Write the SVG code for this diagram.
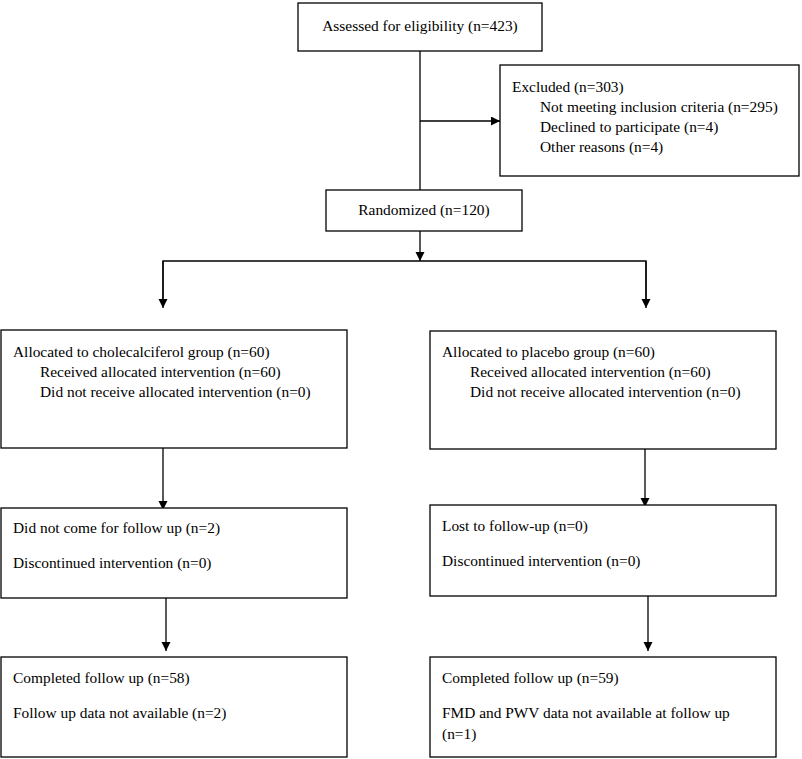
<svg xmlns="http://www.w3.org/2000/svg" width="802" height="759" viewBox="0 0 802 759">
<defs>
<style>
.box{fill:#fff;stroke:#000;stroke-width:1.3}
.t{font-family:"Liberation Serif","Times New Roman",serif;font-size:15.4px;fill:#000}
.ln{fill:none;stroke:#000;stroke-width:1.3}
</style>
<marker id="ah" markerWidth="10" markerHeight="10" refX="9" refY="4.5" orient="auto" markerUnits="userSpaceOnUse">
<path d="M0,0 L9,4.5 L0,9 Z" fill="#000"/>
</marker>
</defs>
<rect width="802" height="759" fill="#fff"/>
<g id="connectors">
<line class="ln" x1="420" y1="51" x2="420" y2="190"/>
<line class="ln" x1="420" y1="121" x2="500" y2="121" marker-end="url(#ah)"/>
<line class="ln" x1="420" y1="231" x2="420" y2="261" marker-end="url(#ah)"/>
<polyline class="ln" points="163,300 163,261 646,261 646,300"/>
<line class="ln" x1="163" y1="261" x2="163" y2="308" marker-end="url(#ah)"/>
<line class="ln" x1="646" y1="261" x2="646" y2="308" marker-end="url(#ah)"/>
<line class="ln" x1="163" y1="448" x2="163" y2="510" marker-end="url(#ah)"/>
<line class="ln" x1="645" y1="449" x2="645" y2="507" marker-end="url(#ah)"/>
<line class="ln" x1="166" y1="598" x2="166" y2="651" marker-end="url(#ah)"/>
<line class="ln" x1="648" y1="596" x2="648" y2="651" marker-end="url(#ah)"/>
</g>
<g id="assessed">
<rect class="box" x="298" y="3" width="244" height="48"/>
<text class="t" x="420" y="31" text-anchor="middle">Assessed for eligibility (n=423)</text>
</g>
<g id="excluded">
<rect class="box" x="500" y="65" width="299" height="111"/>
<text class="t" x="512" y="92">Excluded (n=303)</text>
<text class="t" x="540" y="112">Not meeting inclusion criteria (n=295)</text>
<text class="t" x="540" y="132">Declined to participate (n=4)</text>
<text class="t" x="540" y="152">Other reasons (n=4)</text>
</g>
<g id="randomized">
<rect class="box" x="326" y="190" width="196" height="41"/>
<text class="t" x="424" y="215" text-anchor="middle">Randomized (n=120)</text>
</g>
<g id="alloc-chole">
<rect class="box" x="1" y="330" width="346" height="118"/>
<text class="t" x="13" y="357">Allocated to cholecalciferol group (n=60)</text>
<text class="t" x="40" y="377">Received allocated intervention (n=60)</text>
<text class="t" x="40" y="397">Did not receive allocated intervention (n=0)</text>
</g>
<g id="alloc-placebo">
<rect class="box" x="430" y="331" width="346" height="118"/>
<text class="t" x="442" y="357">Allocated to placebo group (n=60)</text>
<text class="t" x="470" y="377">Received allocated intervention (n=60)</text>
<text class="t" x="470" y="397">Did not receive allocated intervention (n=0)</text>
</g>
<g id="followup-chole">
<rect class="box" x="1" y="508" width="346" height="90"/>
<text class="t" x="13" y="533">Did not come for follow up (n=2)</text>
<text class="t" x="13" y="568">Discontinued intervention (n=0)</text>
</g>
<g id="followup-placebo">
<rect class="box" x="430" y="505" width="346" height="91"/>
<text class="t" x="442" y="531">Lost to follow-up (n=0)</text>
<text class="t" x="442" y="566">Discontinued intervention (n=0)</text>
</g>
<g id="completed-chole">
<rect class="box" x="1" y="657" width="346" height="100"/>
<text class="t" x="13" y="683">Completed follow up (n=58)</text>
<text class="t" x="13" y="718">Follow up data not available (n=2)</text>
</g>
<g id="completed-placebo">
<rect class="box" x="430" y="657" width="346" height="100"/>
<text class="t" x="442" y="683">Completed follow up (n=59)</text>
<text class="t" x="442" y="718">FMD and PWV data not available at follow up</text>
<text class="t" x="442" y="739">(n=1)</text>
</g>
</svg>
